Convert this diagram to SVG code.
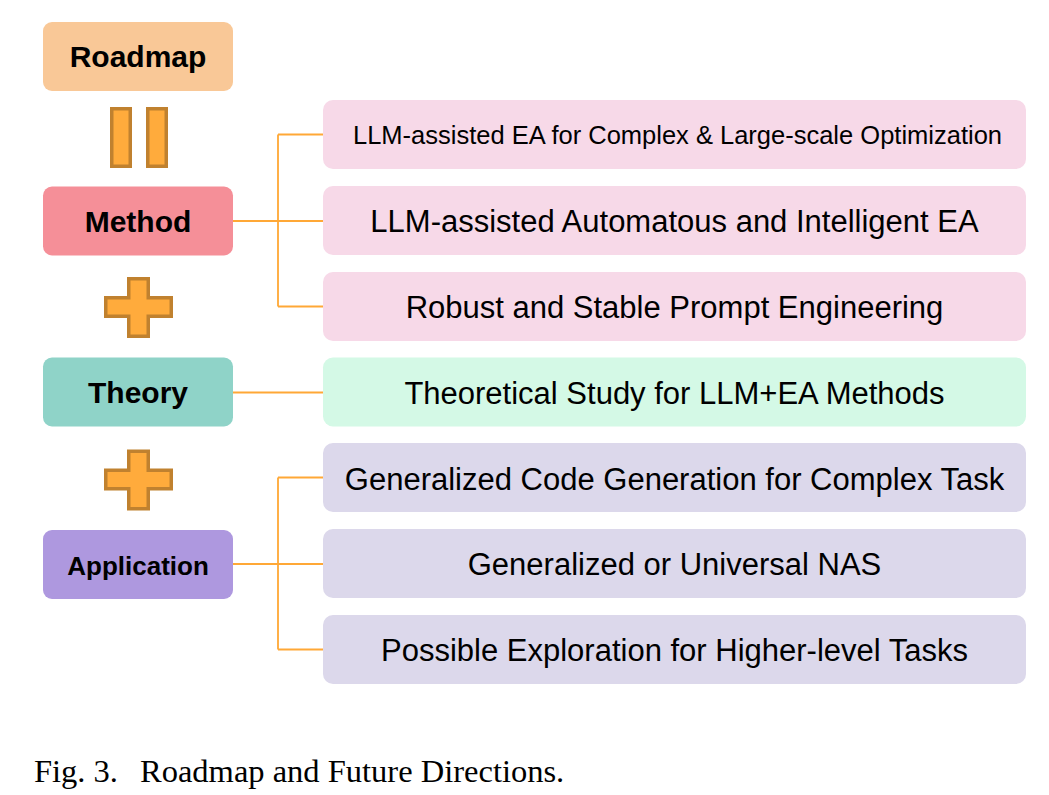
<svg xmlns="http://www.w3.org/2000/svg" width="1049" height="795" viewBox="0 0 1049 795">
<style>
.bg{fill:#ffffff}
.lt{font-family:"Liberation Sans",Arial,sans-serif;font-weight:bold;fill:#000;text-anchor:middle}
.rt{font-family:"Liberation Sans",Arial,sans-serif;font-size:31px;fill:#000;text-anchor:middle}
.sym{fill:#FFAB3C;stroke:#C0812F;stroke-width:3.5;stroke-linejoin:miter}
.con{fill:none;stroke:#FFA836;stroke-width:1.8}
.pink{fill:#F7D9E8}
.green{fill:#D4F9E6}
.lav{fill:#DCD8EB}
.cap{font-family:"Liberation Serif","Times New Roman",serif;font-size:32.5px;fill:#000}
</style>
<rect class="bg" x="0" y="0" width="1049" height="795"/>

<g id="connectors">
<path class="con" d="M233,221 H323 M278,134.5 V306.5 M278,134.5 H323 M278,306.5 H323"/>
<path class="con" d="M233,392.5 H323"/>
<path class="con" d="M233,564 H323 M278,477.5 V649.5 M278,477.5 H323 M278,649.5 H323"/>
</g>

<g id="roadmap">
<rect x="43" y="22" width="190" height="69" rx="9" fill="#F9C897"/>
<text class="lt" x="138" y="67" font-size="30">Roadmap</text>
</g>
<g id="equals">
<rect class="sym" x="111.75" y="108.75" width="18.5" height="57.5"/>
<rect class="sym" x="147.75" y="108.75" width="18.5" height="57.5"/>
</g>
<g id="method">
<rect x="43" y="186.5" width="190" height="69" rx="9" fill="#F58F98"/>
<text class="lt" x="138" y="231.5" font-size="30">Method</text>
</g>
<g id="plus1">
<polygon class="sym" points="128.75,278.75 148.25,278.75 148.25,297.75 171.25,297.75 171.25,316.25 148.25,316.25 148.25,336.25 128.75,336.25 128.75,316.25 105.75,316.25 105.75,297.75 128.75,297.75"/>
</g>
<g id="theory">
<rect x="43" y="357.5" width="190" height="69" rx="9" fill="#8FD3C8"/>
<text class="lt" x="138" y="402.5" font-size="30">Theory</text>
</g>
<g id="plus2">
<polygon class="sym" points="128.75,451.25 148.25,451.25 148.25,470.25 171.25,470.25 171.25,488.75 148.25,488.75 148.25,508.75 128.75,508.75 128.75,488.75 105.75,488.75 105.75,470.25 128.75,470.25"/>
</g>
<g id="application">
<rect x="43" y="530" width="190" height="69" rx="9" fill="#AE98DF"/>
<text class="lt" x="138" y="574.5" font-size="26">Application</text>
</g>

<g id="d1">
<rect class="pink" x="323" y="100" width="703" height="69" rx="10"/>
<text class="rt" x="677.5" y="144" style="font-size:25.5px" textLength="649" lengthAdjust="spacingAndGlyphs">LLM-assisted EA for Complex &amp; Large-scale Optimization</text>
</g>
<g id="d2">
<rect class="pink" x="323" y="186" width="703" height="69" rx="10"/>
<text class="rt" x="674.5" y="232">LLM-assisted Automatous and Intelligent EA</text>
</g>
<g id="d3">
<rect class="pink" x="323" y="272" width="703" height="69" rx="10"/>
<text class="rt" x="674.5" y="318">Robust and Stable Prompt Engineering</text>
</g>
<g id="d4">
<rect class="green" x="323" y="357.5" width="703" height="69" rx="10"/>
<text class="rt" x="674.5" y="404">Theoretical Study for LLM+EA Methods</text>
</g>
<g id="d5">
<rect class="lav" x="323" y="443" width="703" height="69" rx="10"/>
<text class="rt" x="674.5" y="490">Generalized Code Generation for Complex Task</text>
</g>
<g id="d6">
<rect class="lav" x="323" y="529" width="703" height="69" rx="10"/>
<text class="rt" x="674.5" y="575">Generalized or Universal NAS</text>
</g>
<g id="d7">
<rect class="lav" x="323" y="615" width="703" height="69" rx="10"/>
<text class="rt" x="674.5" y="661">Possible Exploration for Higher-level Tasks</text>
</g>

<g id="caption">
<text class="cap" x="34" y="782">Fig. 3.</text>
<text class="cap" x="140" y="782">Roadmap and Future Directions.</text>
</g>
</svg>
